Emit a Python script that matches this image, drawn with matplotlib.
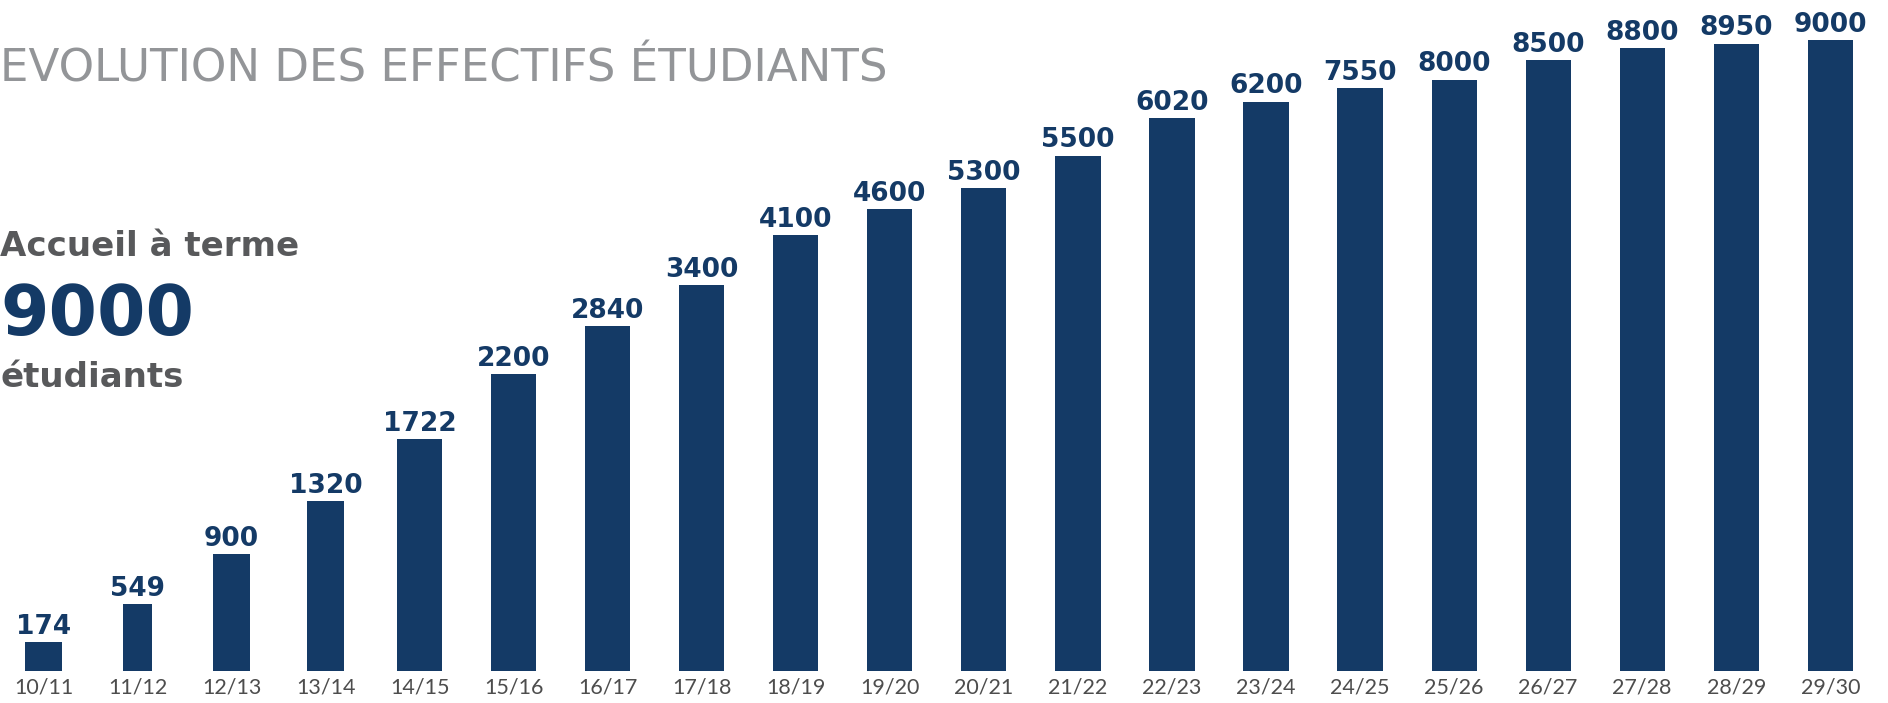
import matplotlib.pyplot as plt

# school years, printed values and the bar heights as drawn in the source
years = ['10/11', '11/12', '12/13', '13/14', '14/15', '15/16', '16/17', '17/18', '18/19', '19/20',
         '20/21', '21/22', '22/23', '23/24', '24/25', '25/26', '26/27', '27/28', '28/29', '29/30']
students = [174, 549, 900, 1320, 1722, 2200, 2840, 3400, 4100, 4600,
            5300, 5500, 6020, 6200, 7550, 8000, 8500, 8800, 8950, 9000]
# the source bars are not to scale, heights read off the picture (9000 scale)
bar_heights = [414, 956, 1669, 2426, 3304, 4233, 4922, 5507, 6212, 6591,
               6883, 7348, 7881, 8122, 8312, 8432, 8708, 8880, 8948, 9000]

NAVY = '#143a66'
GREY_TITLE = '#939598'
GREY_TEXT = '#58595b'
W, H = 1888, 703

# first bars are drawn a bit thinner in the source
bar_w = [0.39, 0.31, 0.39, 0.39] + [0.48] * 16

fig = plt.figure(figsize=(W / 100, H / 100), dpi=100)
base = 32
ax = fig.add_axes([0, base / H, 1, 1 - base / H])

x = list(range(len(years)))
ax.bar(x, bar_heights, width=bar_w, color=NAVY)
for xi, h, v in zip(x, bar_heights, students):
    ax.annotate(str(v), (xi, h), xytext=(0, 6), textcoords='offset points',
                ha='center', va='baseline', fontsize=19, fontweight='bold',
                color=NAVY, family='DejaVu Sans')

ax.set_xlim(-0.4628, 19.614)
ax.set_ylim(0, 9570)
ax.set_xticks(x)
ax.set_xticklabels(years, fontsize=15.5, color='#4d4d4d', family='Lato')
ax.tick_params(axis='x', length=0, pad=5)
ax.set_yticks([])
for s in ax.spines.values():
    s.set_visible(False)
ax.patch.set_alpha(0)

def px(xp, yp):
    return xp / W, 1 - yp / H

fig.text(*px(0, 81), 'EVOLUTION DES EFFECTIFS ÉTUDIANTS', fontsize=32.5,
         color=GREY_TITLE, family='DejaVu Sans', va='baseline', ha='left')
fig.text(*px(0, 256), 'Accueil à terme', fontsize=24.5, fontweight='bold',
         color=GREY_TEXT, family='DejaVu Sans', va='baseline', ha='left')
fig.text(*px(0, 335), '9000', fontsize=50, fontweight='bold',
         color=NAVY, family='DejaVu Sans', va='baseline', ha='left')
fig.text(*px(0, 387), 'étudiants', fontsize=24.5, fontweight='bold',
         color=GREY_TEXT, family='DejaVu Sans', va='baseline', ha='left')

fig.savefig('out.png', dpi=100)
